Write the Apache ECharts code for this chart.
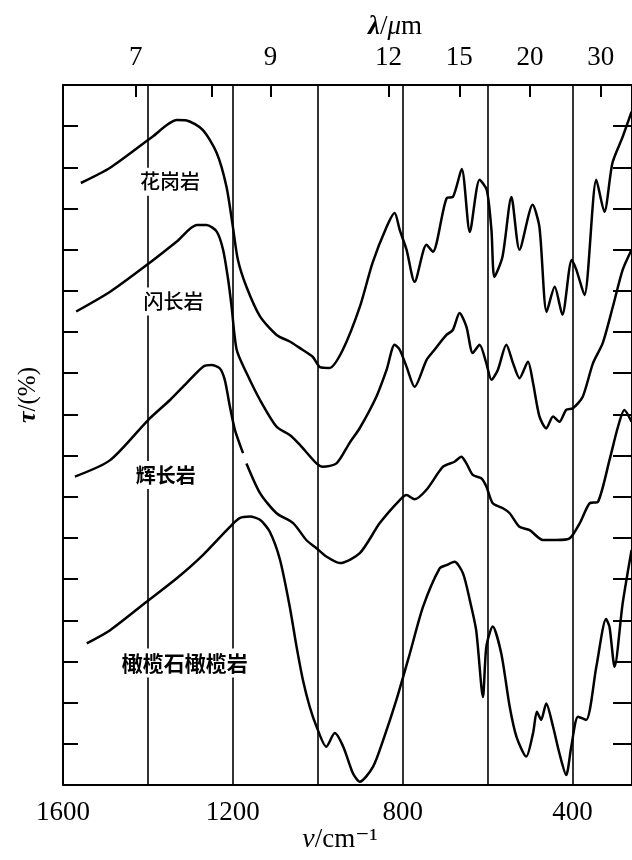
<!DOCTYPE html>
<html><head><meta charset="utf-8">
<script src="https://cdn.jsdelivr.net/npm/echarts@6/dist/echarts.min.js"></script>
<style>html,body{margin:0;padding:0;background:#fff}#c{width:632px;height:860px}</style>
</head><body><div id="c"></div>
<script>
// ---- data (wavenumber cm^-1, transmittance in axis units) ----
const xMin = 260, xMax = 1600;
const bottomLabels = [1600, 1200, 800, 400];
const gridLines = [1400, 1200, 1000, 800, 600, 400];
const lambdaLabels = [7, 9, 12, 15, 20, 30];
const lambdaTicks = [7, 8, 9, 12, 15, 20, 30];

const graniteNu  = [1558,1489,1391,1332,1309,1271,1238,1215,1200,1188,1168,1136,1097,1066,1042,1012,995,972,941,901,871,838,819,807,791,772,744,729,696,682,661,642,619,602,591,584,565,544,525,494,478,461,442,424,402,391,372,344,325,306,282,261];
const graniteTau = [146.2,149.9,157.3,161.5,161.4,159.1,153.5,145.3,135.6,127.5,121.0,113.8,109.3,107.7,106.1,104.0,101.5,101.3,105.7,116.1,126.8,135.5,138.9,134.8,130.0,122.2,131.2,129.5,142.6,142.8,149.6,134.3,147.0,144.5,134.8,123.4,128.3,142.8,130.0,140.9,135.5,114.9,121.0,114.2,127.5,125.1,119.0,147.0,139.2,151.1,157.4,163.5];

const dioriteNu  = [1569,1489,1395,1332,1285,1262,1238,1223,1211,1203,1191,1168,1136,1097,1066,1042,1003,988,956,925,901,862,838,819,807,791,772,744,729,697,682,666,650,635,619,603,591,576,556,540,525,505,493,478,462,446,431,415,399,376,352,329,305,282,261];
const dioriteTau = [115.0,119.8,126.9,132.0,136.0,136.0,134.4,130.0,122.7,116.2,105.7,100.1,93.5,87.0,85.0,82.6,78.1,77.3,78.1,83.1,86.7,94.3,100.8,106.9,105.7,101.6,96.7,103.2,105.2,109.3,110.5,114.6,111.3,104.9,106.9,102.4,98.4,100.8,106.9,102.4,98.8,102.8,97.6,89.5,86.6,89.5,88.2,91.1,91.5,94.3,102.4,107.3,116.2,125.1,130.0];

const gabbroNu  = [1572,1489,1399,1348,1309,1270,1250,1231,1219,1207,1195,1176,null,1168,1136,1097,1058,1027,1003,980,948,901,854,807,791,772,744,705,678,662,650,635,615,603,588,564,548,525,501,470,438,407,383,360,340,313,293,278,261];
const gabbroTau = [74.9,78.9,88.7,93.5,97.6,101.6,102.0,101.2,98.4,91.9,86.2,80.6,null,78.1,70.9,66.0,63.6,59.5,57.5,55.5,53.9,56.3,63.6,69.2,70.4,69.4,71.7,77.3,78.5,79.7,78.1,75.3,74.5,72.5,68.4,67.2,66.0,62.7,61.9,59.5,59.5,59.9,63.6,68.4,68.8,78.9,87.0,91.1,88.2];

const olivineNu  = [1544,1489,1403,1332,1270,1207,1184,1160,1136,1113,1089,1066,1050,1035,1019,1003,980,960,940,917,901,870,846,815,783,752,713,697,678,658,642,627,611,603,588,568,548,532,509,493,484,474,462,446,431,415,403,387,368,344,321,313,301,282,261];
const olivineTau = [34.4,37.6,44.5,50.2,55.9,62.7,64.8,65.2,64.4,61.5,54.7,43.3,33.6,25.5,19.0,14.2,9.3,12.6,9.3,2.8,0.8,4.4,10.9,20.6,32.0,43.3,52.6,53.4,54.2,51.4,44.9,37.6,21.4,33.6,38.5,32.0,19.0,11.7,6.9,12.6,17.8,15.8,19.8,14.2,7.7,2.4,9.3,16.6,15.8,28.7,40.3,38.4,28.7,44.1,57.1];

const labelNames = ['花岗岩', '闪长岩', '辉长岩', '橄榄石橄榄岩'];
const labelNu    = [1348, 1340, 1358, 1313];
const labelTau   = [146.5, 117.4, 75.3, 29.6];

// ---- build ----
function pairs(nu, tau){ return nu.map((v,i)=> v===null ? [null,null] : [v, tau[i]]); }
const serif = 'Liberation Serif, DejaVu Serif, serif';
const cjk = 'Noto Sans CJK SC, sans-serif';
const curveStyle = {color:'#000', width:2.5};
function curve(name, nu, tau){
  return {type:'line', name, data:pairs(nu,tau), showSymbol:false, symbol:'none', smooth:0.25,
    connectNulls:false, lineStyle:curveStyle, silent:true, z:3};
}
const labelSizes = [20, 20, 20, 21];
const labelWeights = ['500', '500', 'bold', 'bold'];

const chart = echarts.init(document.getElementById('c'));
const axisLineStyle = {show:true, onZero:false, lineStyle:{color:'#000', width:2}};
chart.setOption({
  animation:false,
  backgroundColor:'#fff',
  grid:{left:63, right:0, top:85, bottom:75, containLabel:false},
  xAxis:[
    {type:'value', position:'bottom', min:xMin, max:xMax, inverse:true,
     axisLine:axisLineStyle, axisTick:{show:false}, splitLine:{show:false},
     axisLabel:{customValues:bottomLabels, color:'#000', fontFamily:serif, fontSize:27, margin:14,
       formatter:v=>String(v)}},
    {type:'value', position:'top', min:xMin, max:xMax, inverse:true,
     axisLine:axisLineStyle, splitLine:{show:false},
     axisTick:{show:true, inside:true, length:12, customValues:lambdaTicks.map(l=>10000/l), lineStyle:{color:'#000', width:2}},
     axisLabel:{customValues:lambdaLabels.map(l=>10000/l), color:'#000', fontFamily:serif, fontSize:27, margin:14,
       formatter:v=>String(Math.round(10000/v))}}
  ],
  yAxis:[
    {type:'value', position:'left', min:0, max:170, interval:10,
     axisLine:axisLineStyle, axisLabel:{show:false}, splitLine:{show:false},
     axisTick:{show:true, inside:true, length:15, lineStyle:{color:'#000', width:2}}},
    {type:'value', position:'right', min:0, max:170, interval:10,
     axisLine:axisLineStyle, axisLabel:{show:false}, splitLine:{show:false},
     axisTick:{show:true, inside:true, length:19, lineStyle:{color:'#000', width:2}}}
  ],
  graphic:[
    {type:'text', x:395, y:27, style:{text:'{a|λ}{b|/}{c|μ}{d|m}', align:'center', verticalAlign:'middle',
      rich:{a:{fontFamily:serif, fontSize:27, fontWeight:'bold', fontStyle:'italic', fill:'#000'},
            b:{fontFamily:serif, fontSize:27, fill:'#000'},
            c:{fontFamily:serif, fontSize:27, fontStyle:'italic', fill:'#000'},
            d:{fontFamily:serif, fontSize:27, fill:'#000'}}}},
    {type:'text', x:340, y:840, style:{text:'{a|ν}{b|/cm⁻¹}', align:'center', verticalAlign:'middle',
      rich:{a:{fontFamily:serif, fontSize:28, fontStyle:'italic', fill:'#000'},
            b:{fontFamily:serif, fontSize:27, fill:'#000'}}}},
    {type:'text', x:28, y:395, rotation:Math.PI/2, style:{text:'{a|τ}{b|/(%)}', align:'center', verticalAlign:'middle',
      rich:{a:{fontFamily:serif, fontSize:26, fontStyle:'italic', fontWeight:'bold', fill:'#000'},
            b:{fontFamily:serif, fontSize:25, fill:'#000'}}}}
  ],
  series:[
    {type:'line', data:[], silent:true, xAxisIndex:0, yAxisIndex:0,
     markLine:{silent:true, symbol:['none','none'], label:{show:false}, animation:false,
       lineStyle:{color:'#000', width:1.6, type:'solid'},
       data:gridLines.map(v=>({xAxis:v}))}},
    curve('花岗岩', graniteNu, graniteTau),
    curve('闪长岩', dioriteNu, dioriteTau),
    curve('辉长岩', gabbroNu, gabbroTau),
    curve('橄榄石橄榄岩', olivineNu, olivineTau),
    {type:'scatter', symbolSize:0, silent:true, z:5,
     data:labelNames.map((n,i)=>({name:n, value:[labelNu[i], labelTau[i]],
       label:{fontSize:labelSizes[i], fontWeight:labelWeights[i], color:'#000', opacity:1}})),
     label:{show:true, position:'inside', formatter:p=>p.name, color:'#000', fontFamily:cjk,
       backgroundColor:'#fff', padding:[4,3,4,3]}}
  ]
});
</script></body></html>
